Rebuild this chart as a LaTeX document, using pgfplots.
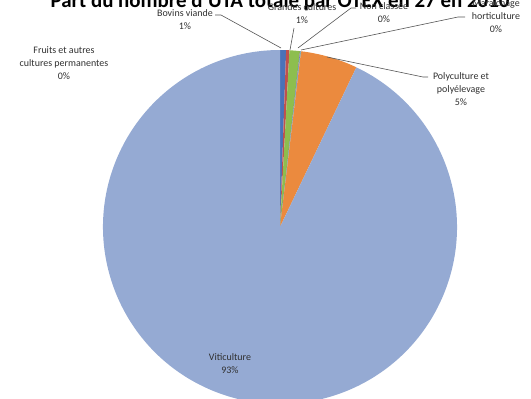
\documentclass[border=0pt]{standalone}
\usepackage{pgfplots}
\usepackage{pgfplotstable}
\pgfplotsset{compat=1.18}
\usepackage{fontspec}
\setmainfont{Carlito}

\definecolor{bovins}{HTML}{4A72B8}
\definecolor{fruits}{HTML}{C0504D}
\definecolor{grandes}{HTML}{8DBE4E}
\definecolor{maraichage}{HTML}{8064A2}
\definecolor{nonclassee}{HTML}{4BACC6}
\definecolor{poly}{HTML}{EB8A3E}
\definecolor{viti}{HTML}{95AAD3}
\definecolor{labeltext}{HTML}{303030}
\definecolor{leader}{HTML}{555555}

% Share of each OTEX (%), in the order the slices run clockwise from the top
\pgfplotstableread[col sep=semicolon]{
otex;share;colour
Bovins viande;0.55;bovins
Fruits et autres cultures permanentes;0.3;fruits
Grandes cultures;0.95;grandes
Maraichage horticulture;0.05;maraichage
Non classee;0.05;nonclassee
Polyculture et polyelevage;5.2;poly
Viticulture;92.9;viti
}\otexshares

\tikzset{lbl/.style={font=\fontsize{10}{13}\selectfont, text=labeltext, align=center, inner sep=0pt}}

\begin{document}
\begin{tikzpicture}
\begin{axis}[
  scale only axis, x=1bp, y=1bp,
  xmin=0, xmax=531, ymin=0, ymax=399,
  hide axis, clip=false,
]
% title (its upper part runs past the top edge)
\node[anchor=base, font=\bfseries\fontsize{21}{24}\selectfont, text=black, inner sep=0pt]
  at (axis cs:280,392) {Part du nombre d'UTA totale par OTEX en 27 en 2010};

% pie slices, accumulated from the table
\def\cum{0}
\pgfplotsforeachungrouped \i in {0,...,6}{%
  \pgfplotstablegetelem{\i}{share}\of\otexshares \let\v\pgfplotsretval
  \pgfplotstablegetelem{\i}{colour}\of\otexshares \let\c\pgfplotsretval
  \pgfmathsetmacro\as{90-3.6*\cum}%
  \pgfmathsetmacro\ae{90-3.6*(\cum+\v)}%
  \pgfmathsetmacro\cum{\cum+\v}%
  \edef\temp{\noexpand\fill[\c] (axis cs:280,172) -- ++(\as:177bp)
     arc[start angle=\as, end angle=\ae, radius=177bp] -- cycle;}%
  \temp
}

% leader lines
\draw[leader, line width=0.6pt] (axis cs:281,351) -- (axis cs:221,384) -- (axis cs:215,384);
\draw[leader, line width=0.6pt] (axis cs:290,349) -- (axis cs:294,371);
\draw[leader, line width=0.6pt] (axis cs:298,351) -- (axis cs:351,391) -- (axis cs:356,391);
\draw[leader, line width=0.6pt] (axis cs:301,349) -- (axis cs:458,382) -- (axis cs:465,382);
\draw[leader, line width=0.6pt] (axis cs:327,342) -- (axis cs:423,322) -- (axis cs:428,322);

% labels
\node[lbl] at (axis cs:496,383) {Maraîchage\\horticulture\\0\%};
\node[lbl] at (axis cs:185,379) {Bovins viande\\1\%};
\node[lbl] at (axis cs:302,385) {Grandes cultures\\1\%};
\node[lbl] at (axis cs:384,386) {Non classée\\0\%};
\node[lbl] at (axis cs:64,336) {Fruits et autres\\cultures permanentes\\0\%};
\node[lbl] at (axis cs:461,310) {Polyculture et\\polyélevage\\5\%};
\node[lbl] at (axis cs:230,35) {Viticulture\\93\%};
\end{axis}
\pgfresetboundingbox
\useasboundingbox (0,0) rectangle (531bp,399bp);
\end{tikzpicture}
\end{document}
